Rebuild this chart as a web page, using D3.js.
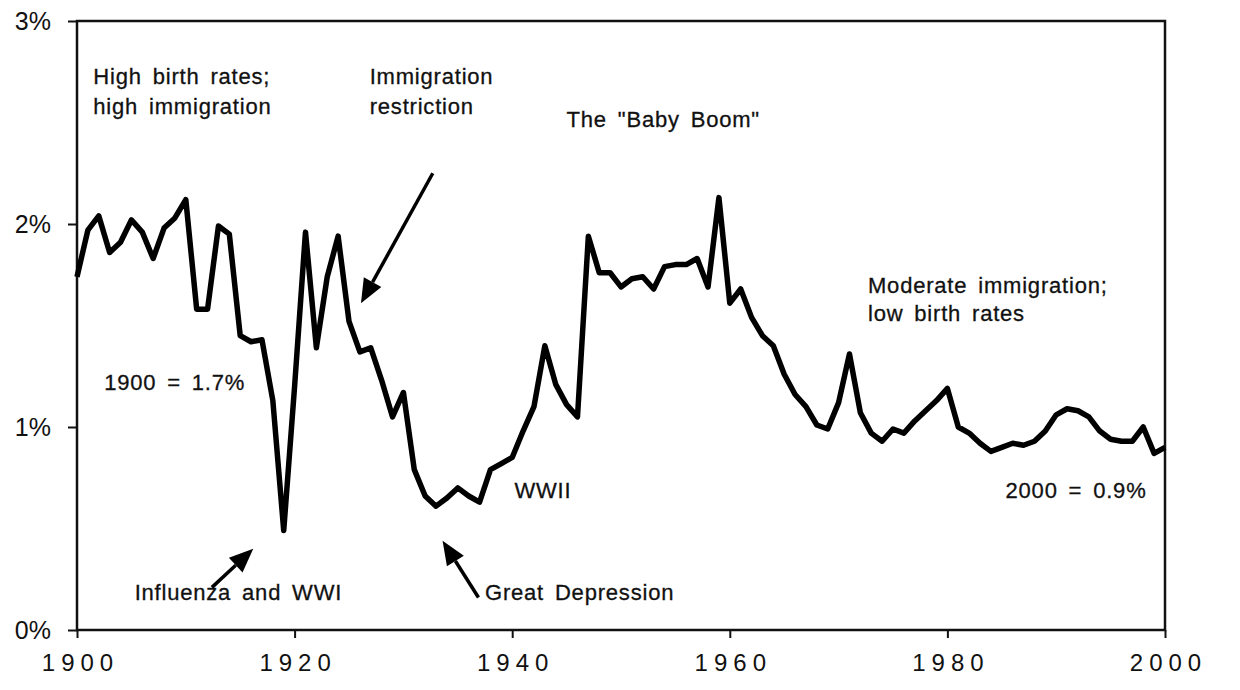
<!DOCTYPE html>
<html lang="en">
<head>
    <meta charset="UTF-8">
    <title>US population growth rate, 1900-2000</title>
    <script src="https://d3js.org/d3.v7.min.js"></script>
</head>
<style>
    html, body {
        margin: 0;
        padding: 0;
        background: #fff;
    }
    svg text {
        font-family: "Liberation Sans", Arial, Helvetica, sans-serif;
        fill: #111;
    }
</style>
<body>
    <div id="chart"></div>
</body>
<script>
    // annual growth rate, percent
    const years = d3.range(1900, 2001);
    const growth = [
        1.74, 1.97, 2.04, 1.86, 1.91, 2.02, 1.96, 1.83, 1.98, 2.03,   // 1900s
        2.12, 1.58, 1.58, 1.99, 1.95, 1.45, 1.42, 1.43, 1.13, 0.49,   // 1910s
        1.20, 1.96, 1.39, 1.74, 1.94, 1.52, 1.37, 1.39, 1.23, 1.05,   // 1920s
        1.17, 0.79, 0.66, 0.61, 0.65, 0.70, 0.66, 0.63, 0.79, 0.82,   // 1930s
        0.85, 0.98, 1.10, 1.40, 1.21, 1.11, 1.05, 1.94, 1.76, 1.76,   // 1940s
        1.69, 1.73, 1.74, 1.68, 1.79, 1.80, 1.80, 1.83, 1.69, 2.13,   // 1950s
        1.61, 1.68, 1.54, 1.45, 1.40, 1.26, 1.16, 1.10, 1.01, 0.99,   // 1960s
        1.12, 1.36, 1.07, 0.97, 0.93, 0.99, 0.97, 1.03, 1.08, 1.13,   // 1970s
        1.19, 1.00, 0.97, 0.92, 0.88, 0.90, 0.92, 0.91, 0.93, 0.98,   // 1980s
        1.06, 1.09, 1.08, 1.05, 0.98, 0.94, 0.93, 0.93, 1.00, 0.87,   // 1990s
        0.90                                                          // 2000
    ];
    const xTicks = [1900, 1920, 1940, 1960, 1980, 2000];
    const yTicks = [0, 1, 2, 3];

    // text notes, placed in data units (year, percent)
    const noteText = [
        "High birth rates;", "high immigration",
        "Immigration", "restriction",
        "The \"Baby Boom\"",
        "Moderate immigration;", "low birth rates",
        "1900 = 1.7%",
        "WWII",
        "2000 = 0.9%",
        "Influenza and WWI",
        "Great Depression"
    ];
    const noteYear = [1901.5, 1901.5, 1926.9, 1926.9, 1945.0, 1972.7, 1972.7, 1902.5, 1940.2, 1998.3, 1905.3, 1937.5];
    const notePct  = [2.69, 2.54, 2.69, 2.54, 2.48, 1.66, 1.52, 1.18, 0.65, 0.65, 0.15, 0.15];
    const noteAnchor = ["start", "start", "start", "start", "start", "start", "start", "start", "start", "end", "start", "start"];

    // arrows: tail -> head, data units
    const arrowFrom = [[1932.7, 2.25], [1912.4, 0.21], [1936.9, 0.16]];
    const arrowTo   = [[1926.1, 1.61], [1916.2, 0.40], [1933.6, 0.44]];

    const width = 1240;
    const height = 690;
    const margin = {top: 21, right: 75, bottom: 60, left: 77};
    const innerW = width - margin.left - margin.right;
    const innerH = height - margin.top - margin.bottom;

    const x = d3.scaleLinear().domain([1900, 2000]).range([0, innerW]);
    const y = d3.scaleLinear().domain([0, 3]).range([innerH, 0]);

    const svg = d3.select('#chart').append('svg')
        .attr('width', width)
        .attr('height', height);

    const g = svg.append('g')
        .attr('transform', `translate(${margin.left}, ${margin.top})`);

    // frame
    g.append('rect')
        .attr('x', 0).attr('y', 0)
        .attr('width', innerW).attr('height', innerH)
        .attr('fill', 'none')
        .attr('stroke', '#111')
        .attr('stroke-width', 2.5);

    // y axis
    const yAxis = d3.axisLeft(y)
        .tickValues(yTicks)
        .tickFormat(d => d + '%')
        .tickSize(9)
        .tickSizeOuter(0)
        .tickPadding(17);
    const gY = g.append('g').call(yAxis);
    gY.select('.domain').remove();
    gY.selectAll('line').attr('stroke', '#111').attr('stroke-width', 2);
    gY.selectAll('text').attr('font-size', 25);

    // x axis
    const xAxis = d3.axisBottom(x)
        .tickValues(xTicks)
        .tickFormat(d3.format('d'))
        .tickSize(8)
        .tickSizeOuter(0)
        .tickPadding(16);
    const gX = g.append('g')
        .attr('transform', `translate(0, ${innerH})`)
        .call(xAxis);
    gX.select('.domain').remove();
    gX.selectAll('line').attr('stroke', '#111').attr('stroke-width', 2);
    gX.selectAll('text')
        .attr('font-size', 24)
        .attr('letter-spacing', 6)
        .attr('dx', 3);

    // growth line
    const line = d3.line()
        .x((d, i) => x(years[i]))
        .y(d => y(d));
    g.append('path')
        .datum(growth)
        .attr('fill', 'none')
        .attr('stroke', '#000')
        .attr('stroke-width', 5.5)
        .attr('stroke-linejoin', 'round')
        .attr('d', line);

    // notes
    g.selectAll('text.note')
        .data(noteText)
        .enter().append('text')
        .attr('class', 'note')
        .attr('x', (d, i) => x(noteYear[i]))
        .attr('y', (d, i) => y(notePct[i]))
        .attr('text-anchor', (d, i) => noteAnchor[i])
        .attr('font-size', 22)
        .attr('letter-spacing', 0.8)
        .attr('word-spacing', 4)
        .attr('stroke', '#111')
        .attr('stroke-width', 0.3)
        .text(d => d);

    // arrows
    const arrowG = g.append('g');
    arrowFrom.forEach((a, i) => {
        const x1 = x(a[0]), y1 = y(a[1]);
        const x2 = x(arrowTo[i][0]), y2 = y(arrowTo[i][1]);
        const ang = Math.atan2(y2 - y1, x2 - x1);
        const len = 24, half = 10;
        const bx = x2 - len * Math.cos(ang), by = y2 - len * Math.sin(ang);
        arrowG.append('line')
            .attr('x1', x1).attr('y1', y1)
            .attr('x2', bx).attr('y2', by)
            .attr('stroke', '#000')
            .attr('stroke-width', 3.5);
        const pts = [
            [x2, y2],
            [bx + half * Math.sin(ang), by - half * Math.cos(ang)],
            [bx - half * Math.sin(ang), by + half * Math.cos(ang)]
        ];
        arrowG.append('polygon')
            .attr('points', pts.map(p => p.join(',')).join(' '))
            .attr('fill', '#000');
    });
</script>
</html>
